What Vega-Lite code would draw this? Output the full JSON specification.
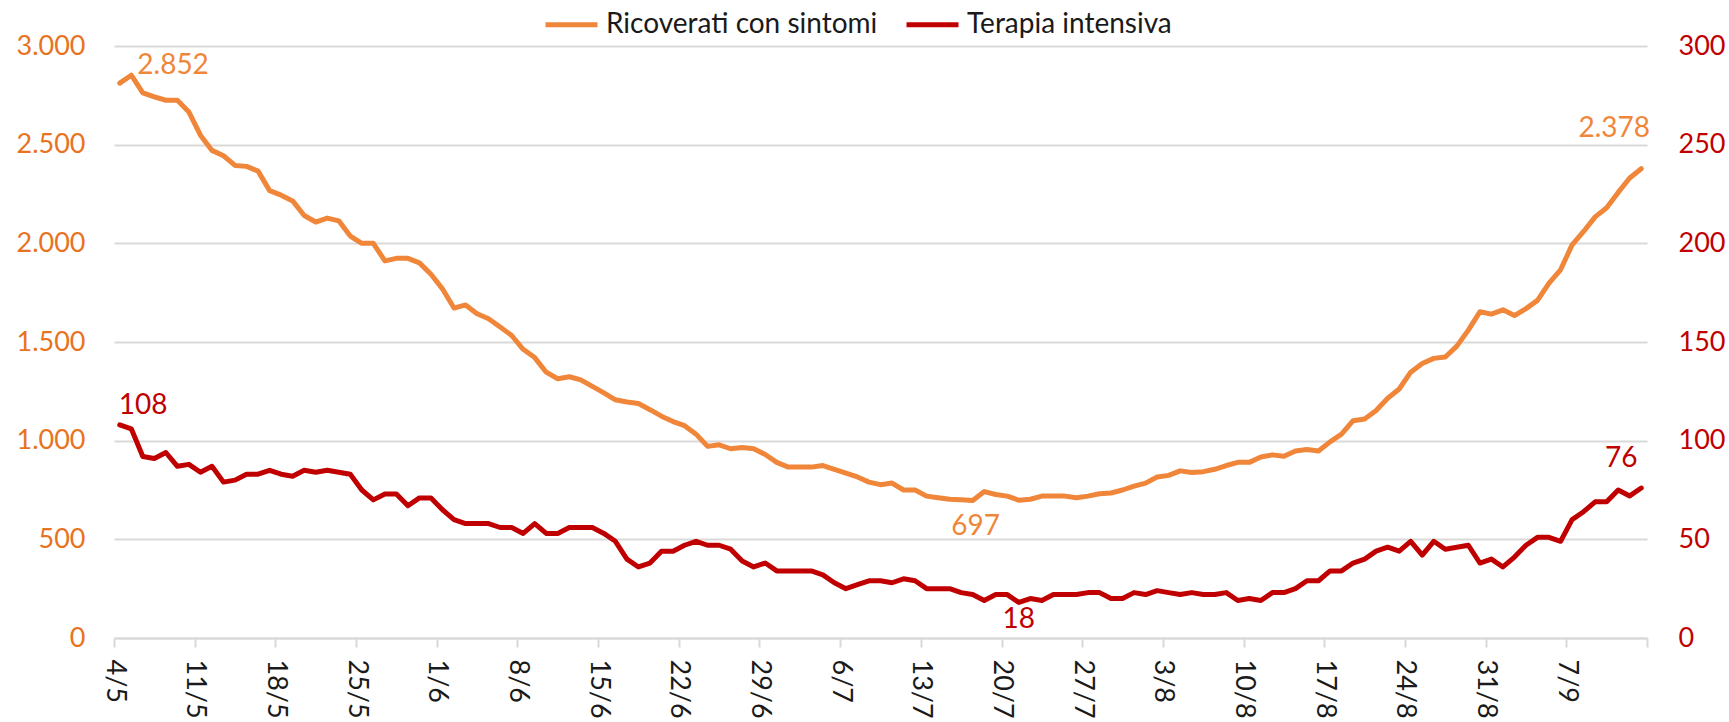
{
  "$schema": "https://vega.github.io/schema/vega-lite/v6.json",
  "width": 1533,
  "height": 592,
  "autosize": {"type": "none"},
  "padding": {"left": 114, "top": 46, "right": 82, "bottom": 84},
  "background": "white",
  "config": {
    "font": "Lato",
    "view": {"stroke": null},
    "locale": {"number": {"decimal": ",", "thousands": ".", "grouping": [3], "currency": ["€", ""]}},
    "legend": {
      "orient": "none", "legendX": 429, "legendY": -50, "direction": "horizontal",
      "symbolType": "stroke", "symbolSize": 2704, "symbolStrokeWidth": 5,
      "labelFontSize": 28, "labelColor": "#1a1a1a", "labelFont": "Lato",
      "columnPadding": 18, "labelOffset": 6, "padding": 0, "labelLimit": 0
    }
  },
  "data": {"values": [
    {"date":"2020-05-04","ricoverati":2812,"intensiva":108},
    {"date":"2020-05-05","ricoverati":2852,"intensiva":106},
    {"date":"2020-05-06","ricoverati":2762,"intensiva":92},
    {"date":"2020-05-07","ricoverati":2742,"intensiva":91},
    {"date":"2020-05-08","ricoverati":2725,"intensiva":94},
    {"date":"2020-05-09","ricoverati":2725,"intensiva":87},
    {"date":"2020-05-10","ricoverati":2665,"intensiva":88},
    {"date":"2020-05-11","ricoverati":2548,"intensiva":84},
    {"date":"2020-05-12","ricoverati":2471,"intensiva":87},
    {"date":"2020-05-13","ricoverati":2444,"intensiva":79},
    {"date":"2020-05-14","ricoverati":2395,"intensiva":80},
    {"date":"2020-05-15","ricoverati":2390,"intensiva":83},
    {"date":"2020-05-16","ricoverati":2366,"intensiva":83},
    {"date":"2020-05-17","ricoverati":2267,"intensiva":85},
    {"date":"2020-05-18","ricoverati":2244,"intensiva":83},
    {"date":"2020-05-19","ricoverati":2215,"intensiva":82},
    {"date":"2020-05-20","ricoverati":2141,"intensiva":85},
    {"date":"2020-05-21","ricoverati":2108,"intensiva":84},
    {"date":"2020-05-22","ricoverati":2128,"intensiva":85},
    {"date":"2020-05-23","ricoverati":2114,"intensiva":84},
    {"date":"2020-05-24","ricoverati":2037,"intensiva":83},
    {"date":"2020-05-25","ricoverati":2000,"intensiva":75},
    {"date":"2020-05-26","ricoverati":2000,"intensiva":70},
    {"date":"2020-05-27","ricoverati":1911,"intensiva":73},
    {"date":"2020-05-28","ricoverati":1924,"intensiva":73},
    {"date":"2020-05-29","ricoverati":1924,"intensiva":67},
    {"date":"2020-05-30","ricoverati":1901,"intensiva":71},
    {"date":"2020-05-31","ricoverati":1843,"intensiva":71},
    {"date":"2020-06-01","ricoverati":1769,"intensiva":65},
    {"date":"2020-06-02","ricoverati":1672,"intensiva":60},
    {"date":"2020-06-03","ricoverati":1688,"intensiva":58},
    {"date":"2020-06-04","ricoverati":1643,"intensiva":58},
    {"date":"2020-06-05","ricoverati":1618,"intensiva":58},
    {"date":"2020-06-06","ricoverati":1576,"intensiva":56},
    {"date":"2020-06-07","ricoverati":1533,"intensiva":56},
    {"date":"2020-06-08","ricoverati":1463,"intensiva":53},
    {"date":"2020-06-09","ricoverati":1421,"intensiva":58},
    {"date":"2020-06-10","ricoverati":1347,"intensiva":53},
    {"date":"2020-06-11","ricoverati":1314,"intensiva":53},
    {"date":"2020-06-12","ricoverati":1324,"intensiva":56},
    {"date":"2020-06-13","ricoverati":1308,"intensiva":56},
    {"date":"2020-06-14","ricoverati":1275,"intensiva":56},
    {"date":"2020-06-15","ricoverati":1242,"intensiva":53},
    {"date":"2020-06-16","ricoverati":1207,"intensiva":49},
    {"date":"2020-06-17","ricoverati":1196,"intensiva":40},
    {"date":"2020-06-18","ricoverati":1188,"intensiva":36},
    {"date":"2020-06-19","ricoverati":1157,"intensiva":38},
    {"date":"2020-06-20","ricoverati":1124,"intensiva":44},
    {"date":"2020-06-21","ricoverati":1097,"intensiva":44},
    {"date":"2020-06-22","ricoverati":1076,"intensiva":47},
    {"date":"2020-06-23","ricoverati":1033,"intensiva":49},
    {"date":"2020-06-24","ricoverati":971,"intensiva":47},
    {"date":"2020-06-25","ricoverati":979,"intensiva":47},
    {"date":"2020-06-26","ricoverati":959,"intensiva":45},
    {"date":"2020-06-27","ricoverati":965,"intensiva":39},
    {"date":"2020-06-28","ricoverati":959,"intensiva":36},
    {"date":"2020-06-29","ricoverati":930,"intensiva":38},
    {"date":"2020-06-30","ricoverati":890,"intensiva":34},
    {"date":"2020-07-01","ricoverati":866,"intensiva":34},
    {"date":"2020-07-02","ricoverati":866,"intensiva":34},
    {"date":"2020-07-03","ricoverati":866,"intensiva":34},
    {"date":"2020-07-04","ricoverati":874,"intensiva":32},
    {"date":"2020-07-05","ricoverati":855,"intensiva":28},
    {"date":"2020-07-06","ricoverati":835,"intensiva":25},
    {"date":"2020-07-07","ricoverati":816,"intensiva":27},
    {"date":"2020-07-08","ricoverati":790,"intensiva":29},
    {"date":"2020-07-09","ricoverati":777,"intensiva":29},
    {"date":"2020-07-10","ricoverati":785,"intensiva":28},
    {"date":"2020-07-11","ricoverati":750,"intensiva":30},
    {"date":"2020-07-12","ricoverati":750,"intensiva":29},
    {"date":"2020-07-13","ricoverati":719,"intensiva":25},
    {"date":"2020-07-14","ricoverati":711,"intensiva":25},
    {"date":"2020-07-15","ricoverati":703,"intensiva":25},
    {"date":"2020-07-16","ricoverati":700,"intensiva":23},
    {"date":"2020-07-17","ricoverati":697,"intensiva":22},
    {"date":"2020-07-18","ricoverati":742,"intensiva":19},
    {"date":"2020-07-19","ricoverati":727,"intensiva":22},
    {"date":"2020-07-20","ricoverati":719,"intensiva":22},
    {"date":"2020-07-21","ricoverati":698,"intensiva":18},
    {"date":"2020-07-22","ricoverati":703,"intensiva":20},
    {"date":"2020-07-23","ricoverati":719,"intensiva":19},
    {"date":"2020-07-24","ricoverati":719,"intensiva":22},
    {"date":"2020-07-25","ricoverati":719,"intensiva":22},
    {"date":"2020-07-26","ricoverati":711,"intensiva":22},
    {"date":"2020-07-27","ricoverati":719,"intensiva":23},
    {"date":"2020-07-28","ricoverati":731,"intensiva":23},
    {"date":"2020-07-29","ricoverati":735,"intensiva":20},
    {"date":"2020-07-30","ricoverati":750,"intensiva":20},
    {"date":"2020-07-31","ricoverati":770,"intensiva":23},
    {"date":"2020-08-01","ricoverati":785,"intensiva":22},
    {"date":"2020-08-02","ricoverati":816,"intensiva":24},
    {"date":"2020-08-03","ricoverati":824,"intensiva":23},
    {"date":"2020-08-04","ricoverati":847,"intensiva":22},
    {"date":"2020-08-05","ricoverati":839,"intensiva":23},
    {"date":"2020-08-06","ricoverati":843,"intensiva":22},
    {"date":"2020-08-07","ricoverati":855,"intensiva":22},
    {"date":"2020-08-08","ricoverati":874,"intensiva":23},
    {"date":"2020-08-09","ricoverati":890,"intensiva":19},
    {"date":"2020-08-10","ricoverati":890,"intensiva":20},
    {"date":"2020-08-11","ricoverati":917,"intensiva":19},
    {"date":"2020-08-12","ricoverati":928,"intensiva":23},
    {"date":"2020-08-13","ricoverati":921,"intensiva":23},
    {"date":"2020-08-14","ricoverati":948,"intensiva":25},
    {"date":"2020-08-15","ricoverati":955,"intensiva":29},
    {"date":"2020-08-16","ricoverati":948,"intensiva":29},
    {"date":"2020-08-17","ricoverati":994,"intensiva":34},
    {"date":"2020-08-18","ricoverati":1033,"intensiva":34},
    {"date":"2020-08-19","ricoverati":1101,"intensiva":38},
    {"date":"2020-08-20","ricoverati":1110,"intensiva":40},
    {"date":"2020-08-21","ricoverati":1153,"intensiva":44},
    {"date":"2020-08-22","ricoverati":1215,"intensiva":46},
    {"date":"2020-08-23","ricoverati":1262,"intensiva":44},
    {"date":"2020-08-24","ricoverati":1347,"intensiva":49},
    {"date":"2020-08-25","ricoverati":1391,"intensiva":42},
    {"date":"2020-08-26","ricoverati":1417,"intensiva":49},
    {"date":"2020-08-27","ricoverati":1424,"intensiva":45},
    {"date":"2020-08-28","ricoverati":1479,"intensiva":46},
    {"date":"2020-08-29","ricoverati":1560,"intensiva":47},
    {"date":"2020-08-30","ricoverati":1653,"intensiva":38},
    {"date":"2020-08-31","ricoverati":1641,"intensiva":40},
    {"date":"2020-09-01","ricoverati":1663,"intensiva":36},
    {"date":"2020-09-02","ricoverati":1634,"intensiva":41},
    {"date":"2020-09-03","ricoverati":1669,"intensiva":47},
    {"date":"2020-09-04","ricoverati":1711,"intensiva":51},
    {"date":"2020-09-05","ricoverati":1798,"intensiva":51},
    {"date":"2020-09-06","ricoverati":1866,"intensiva":49},
    {"date":"2020-09-07","ricoverati":1992,"intensiva":60},
    {"date":"2020-09-08","ricoverati":2060,"intensiva":64},
    {"date":"2020-09-09","ricoverati":2134,"intensiva":69},
    {"date":"2020-09-10","ricoverati":2180,"intensiva":69},
    {"date":"2020-09-11","ricoverati":2258,"intensiva":75},
    {"date":"2020-09-12","ricoverati":2331,"intensiva":72},
    {"date":"2020-09-13","ricoverati":2378,"intensiva":76}
  ]},
  "encoding": {
    "x": {
      "field": "date", "timeUnit": "utcyearmonthdate", "type": "temporal", "bandPosition": 0.5,
      "scale": {"type": "utc", "domain": [{"year": 2020, "month": 5, "date": 4, "utc": true}, {"year": 2020, "month": 9, "date": 14, "utc": true}]},
      "axis": {
        "title": null,
        "values": [
          {"year":2020,"month":5,"date":4,"utc":true},{"year":2020,"month":5,"date":11,"utc":true},
          {"year":2020,"month":5,"date":18,"utc":true},{"year":2020,"month":5,"date":25,"utc":true},
          {"year":2020,"month":6,"date":1,"utc":true},{"year":2020,"month":6,"date":8,"utc":true},
          {"year":2020,"month":6,"date":15,"utc":true},{"year":2020,"month":6,"date":22,"utc":true},
          {"year":2020,"month":6,"date":29,"utc":true},{"year":2020,"month":7,"date":6,"utc":true},
          {"year":2020,"month":7,"date":13,"utc":true},{"year":2020,"month":7,"date":20,"utc":true},
          {"year":2020,"month":7,"date":27,"utc":true},{"year":2020,"month":8,"date":3,"utc":true},
          {"year":2020,"month":8,"date":10,"utc":true},{"year":2020,"month":8,"date":17,"utc":true},
          {"year":2020,"month":8,"date":24,"utc":true},{"year":2020,"month":8,"date":31,"utc":true},
          {"year":2020,"month":9,"date":7,"utc":true},{"year":2020,"month":9,"date":14,"utc":true}
        ],
        "labelExpr": "utcFormat(datum.value, '%-d/%-m') == '14/9' ? '' : utcFormat(datum.value, '%-d/%-m')",
        "labelAngle": 90, "labelFontSize": 27, "labelColor": "#1a1a1a", "labelPadding": 12,
        "labelOverlap": false, "labelFlush": false,
        "domain": true, "domainColor": "#D9D9D9", "domainWidth": 2,
        "ticks": true, "tickColor": "#D9D9D9", "tickWidth": 2, "tickSize": 9,
        "grid": false
      }
    }
  },
  "layer": [
    {
      "encoding": {
        "y": {
          "field": "ricoverati", "type": "quantitative",
          "scale": {"domain": [0, 3000], "nice": false, "zero": true},
          "axis": {
            "title": null, "orient": "left", "values": [0, 500, 1000, 1500, 2000, 2500, 3000],
            "labelExpr": "replace(format(datum.value, ','), ',', '.')",
            "labelFontSize": 27, "labelColor": "#E8731E", "labelPadding": 29,
            "domain": false, "ticks": false,
            "grid": true, "gridColor": "#D9D9D9", "gridWidth": 2
          }
        }
      },
      "layer": [
        {
          "mark": {"type": "line", "strokeWidth": 5, "strokeCap": "round", "strokeJoin": "round"},
          "encoding": {
            "color": {
              "datum": "Ricoverati con sintomi", "type": "nominal",
              "scale": {"domain": ["Ricoverati con sintomi", "Terapia intensiva"], "range": ["#F0863A", "#C00000"]},
              "legend": {"title": null}
            }
          }
        },
        {
          "transform": [{"filter": "datum.ricoverati == 2852"}],
          "mark": {"type": "text", "color": "#F0863A", "fontSize": 28, "align": "left", "baseline": "middle", "dx": 6, "dy": -9},
          "encoding": {"text": {"field": "ricoverati", "type": "quantitative", "format": ","}}
        },
        {
          "transform": [{"filter": "datum.ricoverati == 697"}],
          "mark": {"type": "text", "color": "#F0863A", "fontSize": 28, "align": "center", "baseline": "middle", "dx": 3, "dy": 27},
          "encoding": {"text": {"field": "ricoverati", "type": "quantitative", "format": ","}}
        },
        {
          "transform": [{"filter": "datum.ricoverati == 2378"}],
          "mark": {"type": "text", "color": "#F0863A", "fontSize": 28, "align": "center", "baseline": "middle", "dx": -27, "dy": -40},
          "encoding": {"text": {"field": "ricoverati", "type": "quantitative", "format": ","}}
        }
      ]
    },
    {
      "encoding": {
        "y": {
          "field": "intensiva", "type": "quantitative",
          "scale": {"domain": [0, 300], "nice": false, "zero": true},
          "axis": {
            "title": null, "orient": "right", "values": [0, 50, 100, 150, 200, 250, 300],
            "labelFontSize": 27, "labelColor": "#C00000", "labelPadding": 31,
            "domain": false, "ticks": false, "grid": false
          }
        }
      },
      "layer": [
        {
          "mark": {"type": "line", "strokeWidth": 5, "strokeCap": "round", "strokeJoin": "round"},
          "encoding": {
            "color": {"datum": "Terapia intensiva", "type": "nominal", "legend": {"title": null}}
          }
        },
        {
          "transform": [{"filter": "datum.intensiva == 108"}],
          "mark": {"type": "text", "color": "#C00000", "fontSize": 28, "align": "left", "baseline": "middle", "dx": -1, "dy": -19},
          "encoding": {"text": {"field": "intensiva", "type": "quantitative"}}
        },
        {
          "transform": [{"filter": "datum.intensiva == 18"}],
          "mark": {"type": "text", "color": "#C00000", "fontSize": 28, "align": "center", "baseline": "middle", "dx": 0, "dy": 18},
          "encoding": {"text": {"field": "intensiva", "type": "quantitative"}}
        },
        {
          "transform": [{"filter": "datum.intensiva == 76"}],
          "mark": {"type": "text", "color": "#C00000", "fontSize": 28, "align": "center", "baseline": "middle", "dx": -20, "dy": -29},
          "encoding": {"text": {"field": "intensiva", "type": "quantitative"}}
        }
      ]
    }
  ],
  "resolve": {"scale": {"y": "independent"}}
}
